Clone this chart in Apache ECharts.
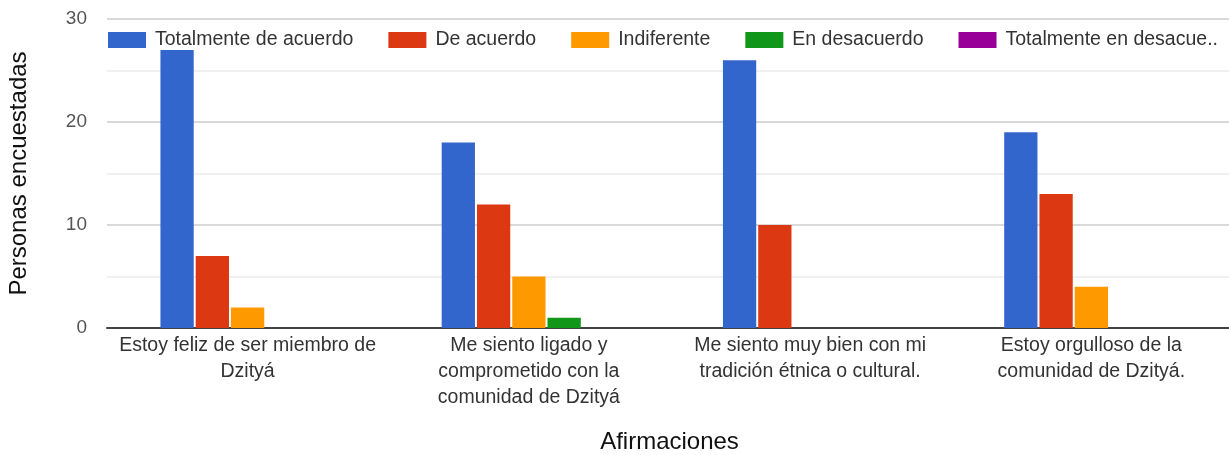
<!DOCTYPE html>
<html><head><meta charset="utf-8">
<script src="https://cdn.jsdelivr.net/npm/echarts@6/dist/echarts.min.js"></script>
<style>html,body{margin:0;padding:0;background:#fff}#c{width:1229px;height:455px}</style>
</head><body><div id="c"></div>
<script>
const categories = [
  "Estoy feliz de ser miembro de\nDzityá",
  "Me siento ligado y\ncomprometido con la\ncomunidad de Dzityá",
  "Me siento muy bien con mi\ntradición étnica o cultural.",
  "Estoy orgulloso de la\ncomunidad de Dzityá."
];
const seriesNames = ["Totalmente de acuerdo","De acuerdo","Indiferente","En desacuerdo","Totalmente en desacuerdo"];
const totalmenteDeAcuerdo = [27, 18, 26, 19];
const deAcuerdo = [7, 12, 10, 13];
const indiferente = [2, 5, 0, 4];
const enDesacuerdo = [0, 1, 0, 0];
const totalmenteEnDesacuerdo = [0, 0, 0, 0];
const yTicks = [0, 10, 20, 30];
const colors = ["#3366cc","#dc3912","#ff9900","#109618","#990099"];
const values = [totalmenteDeAcuerdo, deAcuerdo, indiferente, enDesacuerdo, totalmenteEnDesacuerdo];

const font = "'Liberation Sans', Arial, sans-serif";
const chart = echarts.init(document.getElementById('c'));
chart.setOption({
  animation: false,
  color: colors,
  textStyle: { fontFamily: font },
  legend: {
    left: 103, top: 25,
    itemWidth: 38, itemHeight: 16, itemGap: 35,
    icon: 'rect',
    textStyle: { fontSize: 19.5, color: '#333', fontFamily: font, padding: [0, 0, 0, 4] },
    formatter: function (n) { return n === "Totalmente en desacuerdo" ? "Totalmente en desacue.." : n; },
    data: seriesNames
  },
  grid: { left: 107, right: -3, top: 19, bottom: 127, outerBoundsMode: 'none', containLabel: false },
  xAxis: {
    type: 'category', data: categories,
    name: 'Afirmaciones', nameLocation: 'middle', nameGap: 102,
    nameTextStyle: { fontSize: 24, color: '#111', fontFamily: font },
    axisTick: { show: false },
    axisLine: { lineStyle: { color: '#444', width: 2 } },
    axisLabel: { fontSize: 19.5, color: '#333', lineHeight: 26, margin: 5, interval: 0, fontFamily: font }
  },
  yAxis: {
    type: 'value', min: 0, max: 30, interval: 10,
    name: 'Personas encuestadas', nameLocation: 'middle', nameGap: 76,
    nameTextStyle: { fontSize: 24, color: '#111', fontFamily: font },
    axisLabel: { fontSize: 19, color: '#555', margin: 20, fontFamily: font },
    splitLine: { lineStyle: { color: '#cccccc', width: 1.5 } },
    minorTick: { show: false, splitNumber: 2 },
    minorSplitLine: { show: true, lineStyle: { color: '#ececec', width: 1.5 } }
  },
  series: seriesNames.map((n, i) => ({
    name: n, type: 'bar', data: values[i],
    barGap: '6%', barCategoryGap: '38%'
  }))
});
</script></body></html>
